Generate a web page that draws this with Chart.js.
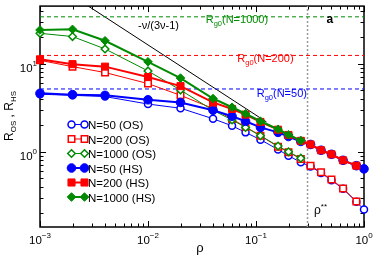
<!DOCTYPE html>
<html>
<head>
<meta charset="utf-8">
<script src="https://cdn.jsdelivr.net/npm/chart.js"></script>
<style>
  html, body { margin: 0; padding: 0; background: #fff; }
  #wrap { width: 374px; height: 258px; }
</style>
</head>
<body>
<div id="wrap"><canvas id="radiusChart" width="374" height="258"></canvas></div>
<script>
// Densities, shared by every series (shorter series stop early)
const rho = [0.001, 0.002, 0.004, 0.01, 0.02, 0.04, 0.06, 0.08, 0.11, 0.16, 0.2, 0.26, 0.32, 0.4, 0.5, 0.64, 0.85, 1.0];

// R_OS (open symbols)
const os50   = [4.5, 4.37, 4.23, 3.48, 3.12, 2.37, 1.97, 1.66, 1.37, 1.06, 0.9, 0.76, 0.68, 0.575, 0.475, 0.38, 0.27, 0.221];
const os200  = [10.9, 9.25, 7.93, 5.94, 4.37, 3.1, 2.35, 1.92, 1.52, 1.14, 0.99, 0.83, 0.695, 0.586, 0.483, 0.384, 0.273];
const os1000 = [22.1, 20.3, 14.7, 8.26, 5.02, 2.95, 2.3, 1.89, 1.52, 1.16, 1.0, 0.845];

// R_HS (filled symbols)
const hs50   = [4.6, 4.45, 4.37, 3.89, 3.63, 2.96, 2.53, 2.22, 1.89, 1.66, 1.49, 1.31, 1.21, 1.04, 0.936, 0.8, 0.695, 0.64];
const hs200  = [11.2, 9.87, 9.25, 7.04, 5.56, 3.63, 3.06, 2.64, 2.18, 1.78, 1.55, 1.33, 1.21, 1.04, 0.936, 0.8, 0.695];
const hs1000 = [24.1, 24.5, 18.2, 10.5, 6.86, 4.02, 3.2, 2.7, 2.22, 1.8, 1.56, 1.34];

// Rg0 reference levels (N = 50, 200, 1000)
const rg0Levels = [5.16, 12.4, 34];
const rg0Labels = ['(N=50)', '(N=200)', '(N=1000)'];

// power law guide  -v/(3v-1)
const slopeX = [0.0028, 0.125];
const slopeY = [45, 2.18];

// rho** marker
const rhoStar = 0.3;

// axis ticks
const xMajor = [0.001, 0.01, 0.1, 1];
const xTickExp = ['-3', '-2', '-1', '0'];
const yMajor = [1, 10];
const yTickExp = ['0', '1'];

const legendLabels = ['N=50 (OS)', 'N=200 (OS)', 'N=1000 (OS)', 'N=50 (HS)', 'N=200 (HS)', 'N=1000 (HS)'];

const BLUE = '#0000ff';
const RED = '#ff0000';
const GREEN = '#008b00';
const FONT = "'Liberation Sans', Arial, sans-serif";

function pts(ys) {
    return ys.map((v, i) => ({ x: rho[i], y: v }));
}

function series(ys, color, style, r, filled, lw, order) {
    return {
        data: pts(ys),
        borderColor: color,
        borderWidth: lw,
        pointStyle: style,
        pointRadius: r,
        pointBackgroundColor: filled ? color : '#fff',
        pointBorderColor: color,
        pointBorderWidth: filled ? 1 : 1.5,
        tension: 0,
        clip: false,
        order: order
    };
}

function refLine(data, color, dash, width) {
    return {
        data: data,
        borderColor: color,
        borderWidth: width,
        borderDash: dash,
        pointRadius: 0,
        tension: 0,
        order: 10
    };
}

const datasets = [
    series(os50, BLUE, 'circle', 3.5, false, 1, 5),
    series(os200, RED, 'rect', 4.6, false, 1, 4),
    series(os1000, GREEN, 'rectRot', 3.8, false, 1, 3),
    series(hs50, BLUE, 'circle', 4.3, true, 2, 2),
    series(hs200, RED, 'rect', 5, true, 2, 1),
    series(hs1000, GREEN, 'rectRot', 4.3, true, 2, 0),
    refLine([{ x: 0.001, y: rg0Levels[0] }, { x: 1, y: rg0Levels[0] }], BLUE, [4, 3], 1),
    refLine([{ x: 0.001, y: rg0Levels[1] }, { x: 1, y: rg0Levels[1] }], RED, [4, 3], 1),
    refLine([{ x: 0.001, y: rg0Levels[2] }, { x: 1, y: rg0Levels[2] }], GREEN, [4, 3], 1),
    refLine(slopeX.map((x, i) => ({ x: x, y: slopeY[i] })), '#000', [], 1),
    refLine([{ x: rhoStar, y: 0.14 }, { x: rhoStar, y: 45 }], '#999', [2, 2], 1.5)
];

// draw text made of pieces: {t, size, dy, bold}
function richText(ctx, parts, x, y, align) {
    let total = 0;
    parts.forEach(p => {
        ctx.font = (p.bold ? 'bold ' : '') + p.size + 'px ' + FONT;
        p.w = ctx.measureText(p.t).width;
        total += p.w;
    });
    let cx = x;
    if (align === 'center') cx = x - total / 2;
    if (align === 'right') cx = x - total;
    ctx.textAlign = 'left';
    ctx.textBaseline = 'alphabetic';
    parts.forEach(p => {
        ctx.font = (p.bold ? 'bold ' : '') + p.size + 'px ' + FONT;
        ctx.fillText(p.t, cx, y + (p.dy || 0));
        cx += p.w;
    });
}

function marker(ctx, style, x, y, r, fill, stroke, lw) {
    ctx.beginPath();
    if (style === 'circle') {
        ctx.arc(x, y, r, 0, Math.PI * 2);
    } else if (style === 'rect') {
        const s = r * Math.SQRT1_2;
        ctx.rect(x - s, y - s, 2 * s, 2 * s);
    } else {
        ctx.moveTo(x - r, y); ctx.lineTo(x, y - r); ctx.lineTo(x + r, y); ctx.lineTo(x, y + r);
        ctx.closePath();
    }
    ctx.fillStyle = fill;
    ctx.fill();
    ctx.lineWidth = lw;
    ctx.strokeStyle = stroke;
    ctx.stroke();
}

const framePlugin = {
    id: 'frame',
    beforeDatasetsDraw(chart) {
        const ctx = chart.ctx;
        const a = chart.chartArea;
        const xs = chart.scales.x, ys = chart.scales.y;
        ctx.save();
        ctx.strokeStyle = '#000';
        ctx.lineWidth = 1;
        // minor + major ticks, pointing inward on all four sides
        for (let e = -4; e <= 2; e++) {
            for (let m = 1; m <= 9; m++) {
                const v = m * Math.pow(10, e);
                const len = m === 1 ? 6 : 3.5;
                if (v >= xs.min * 0.999 && v <= xs.max * 1.001) {
                    const p = Math.round(xs.getPixelForValue(v)) + 0.5;
                    ctx.beginPath();
                    ctx.moveTo(p, a.bottom); ctx.lineTo(p, a.bottom - len);
                    ctx.moveTo(p, a.top); ctx.lineTo(p, a.top + len);
                    ctx.stroke();
                }
                if (v >= ys.min && v <= ys.max) {
                    const p = Math.round(ys.getPixelForValue(v)) + 0.5;
                    ctx.beginPath();
                    ctx.moveTo(a.left, p); ctx.lineTo(a.left + len, p);
                    ctx.moveTo(a.right, p); ctx.lineTo(a.right - len, p);
                    ctx.stroke();
                }
            }
        }
        ctx.lineWidth = 1.5;
        ctx.strokeRect(a.left, a.top, a.right - a.left, a.bottom - a.top);

        // tick labels
        ctx.fillStyle = '#000';
        xMajor.forEach((v, i) => {
            const p = xs.getPixelForValue(v);
            richText(ctx, [{ t: '10', size: 11.5 }, { t: xTickExp[i].replace('-', '\u2212'), size: 8, dy: -6 }], p, a.bottom + 17, 'center');
        });
        yMajor.forEach((v, i) => {
            const p = ys.getPixelForValue(v);
            richText(ctx, [{ t: '10', size: 11.5 }, { t: yTickExp[i], size: 8, dy: -6 }], a.left - 3, p + 8, 'right');
        });

        // axis titles
        richText(ctx, [{ t: '\u03c1', size: 13 }], 200, 252, 'center');
        ctx.translate(13, 116);
        ctx.rotate(-Math.PI / 2);
        richText(ctx, [
            { t: 'R', size: 12 }, { t: 'OS', size: 8, dy: 3 },
            { t: ' , ', size: 12 },
            { t: 'R', size: 12 }, { t: 'HS', size: 8, dy: 3 }
        ], 0, 0, 'center');
        ctx.restore();
    },
    afterDatasetsDraw(chart) {
        const ctx = chart.ctx;
        ctx.save();
        // Rg0 labels
        const rg0Colors = [BLUE, RED, GREEN];
        const rg0Pos = [[256.7, 97], [237.3, 62], [205.7, 23]];
        rg0Levels.forEach((lvl, i) => {
            ctx.fillStyle = rg0Colors[i];
            richText(ctx, [{ t: 'R', size: 11 }, { t: 'g0', size: 7.5, dy: 3 }, { t: rg0Labels[i], size: 11 }],
                rg0Pos[i][0], rg0Pos[i][1], 'left');
        });
        ctx.fillStyle = '#000';
        richText(ctx, [{ t: '-\u03bd/(3\u03bd-1)', size: 11 }], 138, 29, 'left');
        richText(ctx, [{ t: 'a', size: 12, bold: true }], 326.5, 23, 'left');
        richText(ctx, [{ t: '\u03c1', size: 12 }, { t: '**', size: 8, dy: -5 }], 314, 214, 'left');

        // legend
        const rowY = [124.5, 139, 153.5, 168, 182.5, 197];
        legendLabels.forEach((lab, i) => {
            const ds = chart.data.datasets[i];
            const y = rowY[i];
            ctx.setLineDash([]);
            ctx.strokeStyle = ds.borderColor;
            ctx.lineWidth = ds.borderWidth;
            ctx.beginPath();
            ctx.moveTo(71.5, y); ctx.lineTo(84.5, y);
            ctx.stroke();
            [71.5, 84.5].forEach(mx => marker(ctx, ds.pointStyle, mx, y, ds.pointRadius,
                ds.pointBackgroundColor, ds.pointBorderColor, ds.pointBorderWidth));
            ctx.fillStyle = '#000';
            richText(ctx, [{ t: lab, size: 11.5 }], 88, y + 4.5, 'left');
        });
        ctx.restore();
    }
};

new Chart(document.getElementById('radiusChart'), {
    type: 'line',
    data: { datasets: datasets },
    options: {
        responsive: false,
        animation: false,
        layout: { padding: { left: 40, right: 10, top: 1, bottom: 31 } },
        scales: {
            x: { type: 'logarithmic', min: 0.001, max: 1, display: false },
            y: { type: 'logarithmic', min: 0.14, max: 45, display: false }
        },
        plugins: {
            legend: { display: false },
            tooltip: { enabled: false }
        }
    },
    plugins: [framePlugin]
});
</script>
</body>
</html>
